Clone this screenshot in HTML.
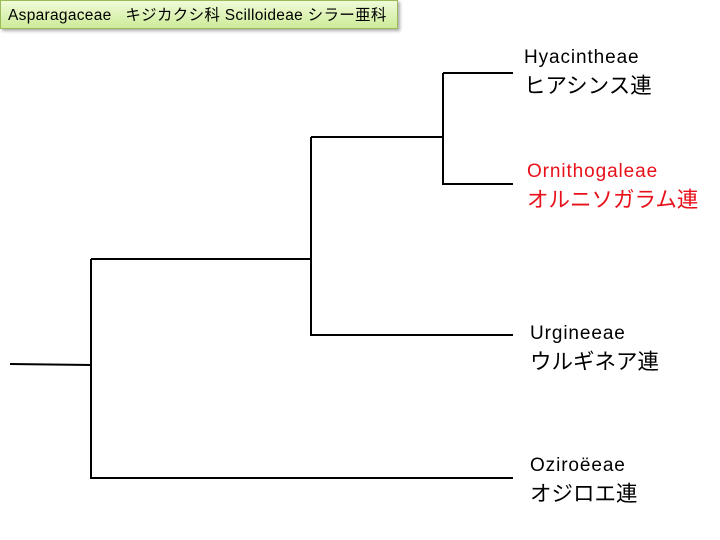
<!DOCTYPE html>
<html><head><meta charset="utf-8"><style>
body{margin:0;width:720px;height:540px;background:#fff;position:relative;overflow:hidden;font-family:"Liberation Sans","Noto Sans CJK JP",sans-serif;}
.t{position:absolute;left:0;top:0;width:398px;height:29px;background:linear-gradient(#f0fbd8,#cdeb98);border:1px solid #9bbb59;box-shadow:2px 2px 3px #aaa;font-size:15.5px;line-height:29px;padding-left:7px;box-sizing:border-box;white-space:nowrap;letter-spacing:0.3px;}
.l{position:absolute;font-size:19px;line-height:28px;white-space:nowrap;letter-spacing:0.9px;}
.l span{font-size:21.5px;letter-spacing:0;}
.r{color:#e8101a;}
</style></head><body>
<div class="t">Asparagaceae&nbsp;&nbsp; キジカクシ科 Scilloideae シラー亜科</div>
<svg width="720" height="540" style="position:absolute;left:0;top:0" fill="none" stroke="#000" stroke-width="2">
<path d="M10 364 L91 365 M91 259 V479 M91 259 H311 M91 478 H513 M311 137 V336 M311 335 H513 M311 137 H443 M443 73 V185 M443 73 H513 M443 184 H513"/>
</svg>
<div class="l" style="left:524px;top:44px">Hyacintheae<br><span>ヒアシンス連</span></div>
<div class="l r" style="left:527px;top:158px">Ornithogaleae<br><span>オルニソガラム連</span></div>
<div class="l" style="left:530px;top:320px">Urgineeae<br><span>ウルギネア連</span></div>
<div class="l" style="left:530px;top:452px">Oziroëeae<br><span>オジロエ連</span></div>
</body></html>
